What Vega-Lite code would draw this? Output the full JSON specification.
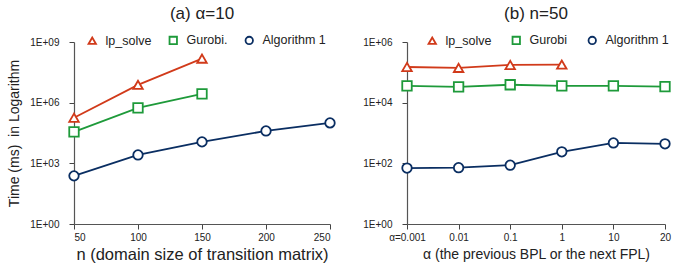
{
  "$schema": "https://vega.github.io/schema/vega-lite/v6.json",
  "padding": {"left": 7, "top": 5, "right": 2, "bottom": 2},
  "spacing": 23,
  "config": {
    "font": "Liberation Sans",
    "view": {"stroke": null},
    "axis": {"grid": false, "domainColor": "#555", "tickColor": "#444", "domainWidth": 1.2, "labelColor": "#222", "labelFontSize": 10, "titleFontWeight": "normal", "titleColor": "#222", "tickSize": 5},
    "title": {"fontSize": 17, "fontWeight": "normal", "color": "#222", "offset": 11},
    "legend": {"labelFontSize": 12.5, "labelColor": "#222", "symbolStrokeWidth": 1.8, "symbolFillColor": "white", "symbolSize": 55, "labelOffset": 7, "columnPadding": 13}
  },
  "datasets": {
    "a": [
      {"n": 50, "method": "lp_solve", "time": 180000},
      {"n": 100, "method": "lp_solve", "time": 7600000},
      {"n": 150, "method": "lp_solve", "time": 150000000},
      {"n": 50, "method": "Gurobi.", "time": 36000},
      {"n": 100, "method": "Gurobi.", "time": 550000},
      {"n": 150, "method": "Gurobi.", "time": 2700000},
      {"n": 50, "method": "Algorithm 1", "time": 240},
      {"n": 100, "method": "Algorithm 1", "time": 2600},
      {"n": 150, "method": "Algorithm 1", "time": 11500},
      {"n": 200, "method": "Algorithm 1", "time": 40000},
      {"n": 250, "method": "Algorithm 1", "time": 100000}
    ],
    "b": [
      {"alpha": "0.001", "method": "lp_solve", "time": 150000},
      {"alpha": "0.01", "method": "lp_solve", "time": 140000},
      {"alpha": "0.1", "method": "lp_solve", "time": 175000},
      {"alpha": "1", "method": "lp_solve", "time": 180000},
      {"alpha": "0.001", "method": "Gurobi", "time": 36000},
      {"alpha": "0.01", "method": "Gurobi", "time": 33000},
      {"alpha": "0.1", "method": "Gurobi", "time": 39000},
      {"alpha": "1", "method": "Gurobi", "time": 36000},
      {"alpha": "10", "method": "Gurobi", "time": 36000},
      {"alpha": "20", "method": "Gurobi", "time": 34000},
      {"alpha": "0.001", "method": "Algorithm 1", "time": 70},
      {"alpha": "0.01", "method": "Algorithm 1", "time": 72},
      {"alpha": "0.1", "method": "Algorithm 1", "time": 87},
      {"alpha": "1", "method": "Algorithm 1", "time": 240},
      {"alpha": "10", "method": "Algorithm 1", "time": 470},
      {"alpha": "20", "method": "Algorithm 1", "time": 440}
    ]
  },
  "hconcat": [
    {
      "title": "(a) α=10",
      "width": 256,
      "height": 182,
      "data": {"name": "a"},
      "encoding": {
        "x": {"field": "n", "type": "quantitative", "scale": {"domain": [50, 250], "nice": false, "zero": false},
              "axis": {"values": [50, 100, 150, 200, 250], "title": "n (domain size of transition matrix)", "titleFontSize": 16.5, "titlePadding": 4, "labelPadding": 3}},
        "y": {"field": "time", "type": "quantitative", "scale": {"type": "log", "domain": [1, 1000000000], "nice": false},
              "axis": {"values": [1, 1000, 1000000, 1000000000], "labelExpr": "'1E+0' + round(log(datum.value)/LN10)", "labelPadding": 10, "title": "Time (ms)\u00a0\u00a0in Logarithm", "titleFontSize": 14, "titlePadding": 8}},
        "stroke": {"field": "method", "type": "nominal", "scale": {"domain": ["lp_solve", "Gurobi.", "Algorithm 1"], "range": ["#d13a1a", "#1e9a3a", "#0a2e62"]},
                  "legend": {"title": null, "orient": "none", "direction": "horizontal", "legendX": 12, "legendY": -8,
                             "encode": {"symbols": {"update": {"fill": {"value": "white"}}}}}},
        "shape": {"field": "method", "type": "nominal", "scale": {"domain": ["lp_solve", "Gurobi.", "Algorithm 1"], "range": ["triangle-up", "square", "circle"]},
                  "legend": {"title": null, "orient": "none", "direction": "horizontal", "legendX": 12, "legendY": -8,
                             "encode": {"symbols": {"update": {"fill": {"value": "white"}}}}}}
      },
      "layer": [
        {"mark": {"type": "line", "strokeWidth": 1.8}, "encoding": {"detail": {"field": "method"}}},
        {"mark": {"type": "point", "filled": true, "fill": "white", "fillOpacity": 1, "opacity": 1, "strokeWidth": 1.8, "size": 90}}
      ]
    },
    {
      "title": "(b) n=50",
      "width": 258,
      "height": 182,
      "data": {"name": "b"},
      "encoding": {
        "x": {"field": "alpha", "type": "ordinal", "sort": null, "scale": {"type": "point", "padding": 0},
              "axis": {"labelAngle": 0, "labelExpr": "datum.value == '0.001' ? 'α=0.001' : datum.value", "title": "α (the previous BPL or the next FPL)", "titleFontSize": 14, "titlePadding": 5, "labelPadding": 3}},
        "y": {"field": "time", "type": "quantitative", "scale": {"type": "log", "domain": [1, 1000000], "nice": false},
              "axis": {"values": [1, 100, 10000, 1000000], "labelExpr": "'1E+0' + round(log(datum.value)/LN10)", "labelPadding": 10, "title": null}},
        "stroke": {"field": "method", "type": "nominal", "scale": {"domain": ["lp_solve", "Gurobi", "Algorithm 1"], "range": ["#d13a1a", "#1e9a3a", "#0a2e62"]},
                  "legend": {"title": null, "orient": "none", "direction": "horizontal", "legendX": 19, "legendY": -8, "columnPadding": 16,
                             "encode": {"symbols": {"update": {"fill": {"value": "white"}}}}}},
        "shape": {"field": "method", "type": "nominal", "scale": {"domain": ["lp_solve", "Gurobi", "Algorithm 1"], "range": ["triangle-up", "square", "circle"]},
                  "legend": {"title": null, "orient": "none", "direction": "horizontal", "legendX": 19, "legendY": -8, "columnPadding": 16,
                             "encode": {"symbols": {"update": {"fill": {"value": "white"}}}}}}
      },
      "layer": [
        {"mark": {"type": "line", "strokeWidth": 1.8}, "encoding": {"detail": {"field": "method"}}},
        {"mark": {"type": "point", "filled": true, "fill": "white", "fillOpacity": 1, "opacity": 1, "strokeWidth": 1.8, "size": 90}}
      ]
    }
  ],
  "resolve": {"scale": {"stroke": "independent", "shape": "independent", "x": "independent", "y": "independent"}, "legend": {"stroke": "independent", "shape": "independent"}}
}
